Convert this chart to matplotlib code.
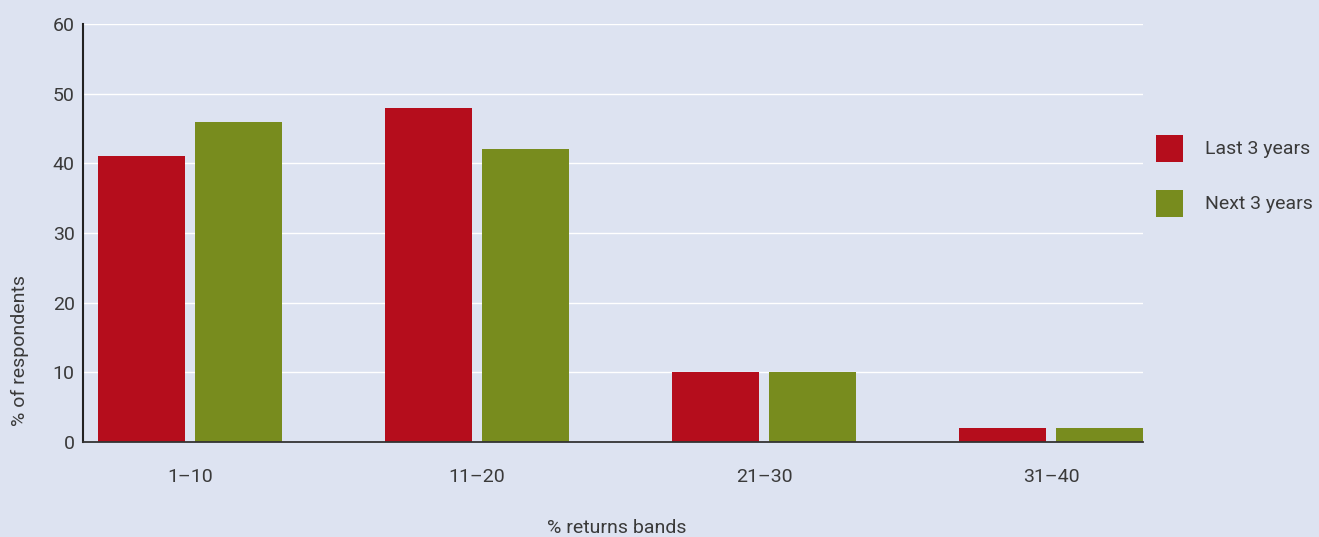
import matplotlib
matplotlib.use("Agg")
import matplotlib.pyplot as plt
from matplotlib.patches import Rectangle
import numpy as np

categories = ["1\u201310", "11\u201320", "21\u201330", "31\u201340"]
last_3_years = [41, 48, 10, 2]
next_3_years = [46, 42, 10, 2]
series_names = ["Last 3 years", "Next 3 years"]
y_ticks = [0, 10, 20, 30, 40, 50, 60]

BG = "#dde3f1"
RED = "#b50d1c"
GREEN = "#788c1e"
TEXT = "#3a3a3a"
FS = 14

plt.rcParams["font.family"] = ["Roboto", "DejaVu Sans"]

fig = plt.figure(figsize=(13.19, 5.37), dpi=100, facecolor=BG)
ax = fig.add_axes([83 / 1319, 1 - 442 / 537, (1143 - 83) / 1319, (442 - 24) / 537])
ax.set_facecolor(BG)

x = np.arange(len(categories))
w = 87 / 287
off = 97 / 287 / 2
ax.bar(x - off, last_3_years, width=w, color=RED, zorder=3, label=series_names[0])
ax.bar(x + off, next_3_years, width=w, color=GREEN, zorder=3, label=series_names[1])

ax.set_xlim(-107 / 287, 3 + 92 / 287)
ax.set_ylim(0, 60)
ax.set_yticks(y_ticks)
ax.set_xticks(x)
ax.set_xticklabels(categories)
ax.tick_params(axis="both", length=0, labelsize=FS, colors=TEXT)
ax.tick_params(axis="y", pad=6)
ax.tick_params(axis="x", pad=19)
ax.grid(axis="y", color="white", linewidth=1.0, zorder=0)
for s in ["top", "right"]:
    ax.spines[s].set_visible(False)
ax.spines["left"].set_color("#222222")
ax.spines["left"].set_linewidth(1.5)
ax.spines["bottom"].set_color("#333333")
ax.spines["bottom"].set_linewidth(1.3)
ax.spines["left"].set_zorder(4)
ax.spines["bottom"].set_zorder(4)

fig.text(617 / 1319, 1 - 528 / 537, "% returns bands", ha="center", va="center",
         fontsize=FS, color=TEXT)
fig.text(20 / 1319, 1 - 350 / 537, "% of respondents", ha="center", va="center",
         rotation=90, fontsize=FS, color=TEXT)

# legend swatches and labels
for i, (name, col) in enumerate(zip(series_names, [RED, GREEN])):
    cy = 149 + i * 55
    fig.patches.append(Rectangle((1156 / 1319, 1 - (cy + 13) / 537), 27 / 1319, 27 / 537,
                                 transform=fig.transFigure, facecolor=col, edgecolor="none"))
    fig.text(1205 / 1319, 1 - cy / 537, name, ha="left", va="center",
             fontsize=FS, color=TEXT)

fig.savefig("out.png", dpi=100, facecolor=BG)
